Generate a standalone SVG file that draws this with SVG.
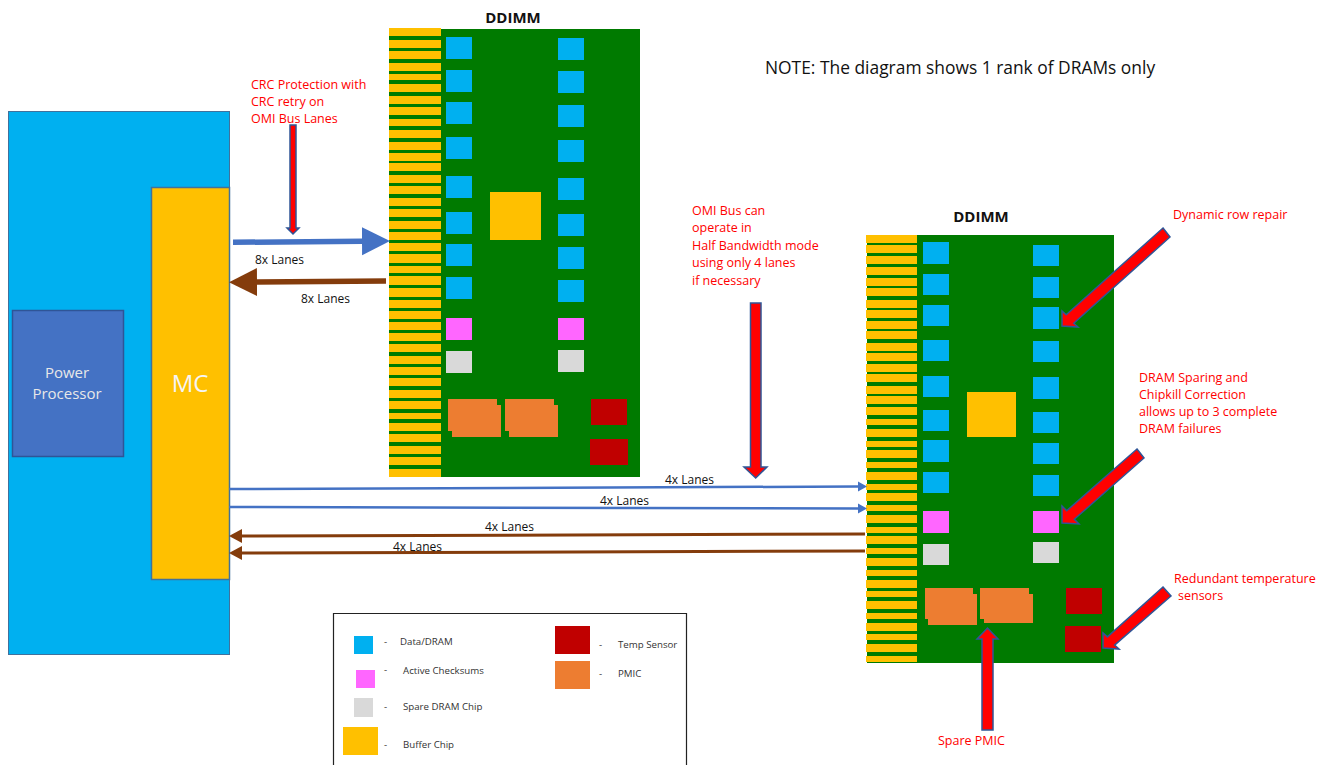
<svg xmlns="http://www.w3.org/2000/svg" width="1331" height="765" viewBox="0 0 1331 765">
<style>
text{font-family:"Open Sans","Noto Sans","Liberation Sans",sans-serif;font-size:12px;fill:#111}
.r{fill:#f00;font-size:12.5px}
.lg{font-size:9.7px;fill:#333}
.dd{font-size:15px;font-weight:700;text-anchor:middle;fill:#111}
.st rect{fill:#ffc000}
.pcb{fill:#007a00}
.dram{fill:#00b0f0}
.chk{fill:#ff66ff}
.spare{fill:#d9d9d9}
.buf{fill:#ffc000}
.tmp{fill:#c00000}
.pm{fill:#ed7d31}
.bl{stroke:#4472c4;fill:none}
.br{stroke:#843c0c;fill:none}
.ra{fill:#f00;stroke:#2f5597;stroke-width:1.5}
</style>
<defs>
<marker id="mBlueBig" markerUnits="userSpaceOnUse" markerWidth="28" markerHeight="30" refX="0" refY="15" orient="auto"><path d="M0 1L28 15L0 29Z" fill="#4472c4"/></marker>
<marker id="mBrownBig" markerUnits="userSpaceOnUse" markerWidth="28" markerHeight="30" refX="0" refY="15" orient="auto"><path d="M0 1L28 15L0 29Z" fill="#843c0c"/></marker>
<marker id="mBlue" markerUnits="userSpaceOnUse" markerWidth="10" markerHeight="14" refX="0" refY="7" orient="auto"><path d="M0 2L9 7L0 12Z" fill="#4472c4"/></marker>
<marker id="mBrown" markerUnits="userSpaceOnUse" markerWidth="14" markerHeight="16" refX="0" refY="8" orient="auto"><path d="M0 1L13 8L0 15Z" fill="#843c0c"/></marker>
</defs>
<rect width="1331" height="765" fill="#fff"/>

<g id="processor">
<rect x="8.5" y="111.5" width="221" height="543" fill="#00b0f0" stroke="#41719c"/>
</g>
<g id="power-processor">
<rect x="12.5" y="310.5" width="111" height="146" fill="#4472c4" stroke="#2f5597" stroke-width="1.5"/>
<text x="67" y="378" text-anchor="middle" style="font-size:15px;fill:#e8e8e8">Power</text>
<text x="67" y="399" text-anchor="middle" style="font-size:15px;fill:#e8e8e8">Processor</text>
</g>
<g id="mc">
<rect x="151.5" y="187.5" width="78" height="392" fill="#ffc000" stroke="#41719c" stroke-width="1.5"/>
<text x="190" y="392" text-anchor="middle" style="font-size:24px;fill:#f5f5f5">MC</text>
</g>

<g id="ddimm-1">
<text x="513" y="23" class="dd">DDIMM</text>
<rect class="pcb" x="389" y="29" width="251" height="448"/>
<g class="st">
<rect x="389" y="28" width="52" height="8"/><rect x="389" y="40" width="52" height="8"/><rect x="389" y="51" width="52" height="8"/><rect x="389" y="63" width="52" height="8"/><rect x="389" y="74" width="52" height="6"/><rect x="389" y="84" width="52" height="8"/><rect x="389" y="96" width="52" height="8"/><rect x="389" y="107" width="52" height="8"/><rect x="389" y="119" width="52" height="7"/><rect x="389" y="130" width="52" height="8"/><rect x="389" y="142" width="52" height="8"/><rect x="389" y="153" width="52" height="8"/><rect x="389" y="163" width="52" height="8"/><rect x="389" y="175" width="52" height="8"/><rect x="389" y="186" width="52" height="8"/><rect x="389" y="198" width="52" height="8"/><rect x="389" y="209" width="52" height="8"/><rect x="389" y="221" width="52" height="8"/><rect x="389" y="232" width="52" height="8"/><rect x="389" y="243" width="52" height="8"/><rect x="389" y="254" width="52" height="9"/><rect x="389" y="266" width="52" height="7"/><rect x="389" y="276" width="52" height="9"/><rect x="389" y="288" width="52" height="9"/><rect x="389" y="300" width="52" height="8"/><rect x="389" y="311" width="52" height="8"/><rect x="389" y="322" width="52" height="8"/><rect x="389" y="333" width="52" height="8"/><rect x="389" y="344" width="52" height="8"/><rect x="389" y="356" width="52" height="8"/><rect x="389" y="367" width="52" height="8"/><rect x="389" y="378" width="52" height="8"/><rect x="389" y="390" width="52" height="8"/><rect x="389" y="401" width="52" height="8"/><rect x="389" y="413" width="52" height="6"/><rect x="389" y="423" width="52" height="8"/><rect x="389" y="434" width="52" height="8"/><rect x="389" y="446" width="52" height="8"/><rect x="389" y="457" width="52" height="8"/><rect x="389" y="469" width="52" height="8"/>
</g>
<g class="dram">
<rect x="446" y="37" width="26" height="22"/><rect x="446" y="70" width="26" height="22"/><rect x="446" y="102" width="26" height="22"/><rect x="446" y="137" width="26" height="22"/><rect x="446" y="176" width="26" height="22"/><rect x="446" y="212" width="26" height="22"/><rect x="446" y="244" width="26" height="22"/><rect x="446" y="277" width="26" height="22"/>
<rect x="558" y="38" width="26" height="22"/><rect x="558" y="71" width="26" height="22"/><rect x="558" y="105" width="26" height="22"/><rect x="558" y="140" width="26" height="22"/><rect x="558" y="178" width="26" height="22"/><rect x="558" y="214" width="26" height="22"/><rect x="558" y="247" width="26" height="22"/><rect x="558" y="280" width="26" height="22"/>
</g>
<rect class="chk" x="446" y="318" width="26" height="22"/><rect class="chk" x="558" y="318" width="26" height="22"/>
<rect class="spare" x="446" y="351" width="26" height="22"/><rect class="spare" x="558" y="350" width="26" height="22"/>
<rect class="buf" x="490" y="192" width="51" height="48"/>
<g class="pm">
<rect x="448" y="399" width="49" height="32"/><rect x="452" y="405" width="49" height="32"/><rect x="505" y="399" width="49" height="32"/><rect x="509" y="405" width="49" height="32"/>
</g>
<rect class="tmp" x="591" y="399" width="36" height="26"/><rect class="tmp" x="590" y="439" width="38" height="26"/>
</g>

<g id="ddimm-2">
<text x="981" y="222" class="dd">DDIMM</text>
<rect class="pcb" x="867" y="235" width="247" height="428"/>
<g class="st">
<rect x="866" y="235" width="51" height="8"/><rect x="866" y="245" width="51" height="8"/><rect x="866" y="256" width="51" height="8"/><rect x="866" y="267" width="51" height="8"/><rect x="866" y="278" width="51" height="8"/><rect x="866" y="288" width="51" height="8"/><rect x="866" y="300" width="51" height="8"/><rect x="866" y="310" width="51" height="8"/><rect x="866" y="321" width="51" height="8"/><rect x="866" y="331" width="51" height="8"/><rect x="866" y="343" width="51" height="8"/><rect x="866" y="353" width="51" height="8"/><rect x="866" y="364" width="51" height="8"/><rect x="866" y="374" width="51" height="8"/><rect x="866" y="386" width="51" height="8"/><rect x="866" y="396" width="51" height="8"/><rect x="866" y="407" width="51" height="8"/><rect x="866" y="419" width="51" height="6"/><rect x="866" y="429" width="51" height="8"/><rect x="866" y="441" width="51" height="6"/><rect x="866" y="450" width="51" height="8"/><rect x="866" y="462" width="51" height="6"/><rect x="866" y="472" width="51" height="8"/><rect x="866" y="484" width="51" height="6"/><rect x="866" y="493" width="51" height="8"/><rect x="866" y="505" width="51" height="6"/><rect x="866" y="515" width="51" height="8"/><rect x="866" y="527" width="51" height="6"/><rect x="866" y="536" width="51" height="8"/><rect x="866" y="548" width="51" height="6"/><rect x="866" y="558" width="51" height="8"/><rect x="866" y="570" width="51" height="6"/><rect x="866" y="580" width="51" height="8"/><rect x="866" y="591" width="51" height="6"/><rect x="866" y="601" width="51" height="8"/><rect x="866" y="613" width="51" height="6"/><rect x="866" y="623" width="51" height="8"/><rect x="866" y="634" width="51" height="6"/><rect x="866" y="644" width="51" height="8"/><rect x="866" y="656" width="51" height="6"/>
</g>
<g class="dram">
<rect x="923" y="242" width="26" height="22"/><rect x="923" y="274" width="26" height="21"/><rect x="923" y="305" width="26" height="21"/><rect x="923" y="340" width="26" height="21"/><rect x="923" y="376" width="26" height="21"/><rect x="923" y="410" width="26" height="21"/><rect x="923" y="440" width="26" height="22"/><rect x="923" y="472" width="26" height="21"/>
<rect x="1033" y="245" width="26" height="21"/><rect x="1033" y="277" width="26" height="21"/><rect x="1033" y="307" width="26" height="22"/><rect x="1033" y="341" width="26" height="21"/><rect x="1033" y="377" width="26" height="22"/><rect x="1033" y="412" width="26" height="21"/><rect x="1033" y="443" width="26" height="21"/><rect x="1033" y="475" width="26" height="21"/>
</g>
<rect class="chk" x="923" y="511" width="26" height="22"/><rect class="chk" x="1033" y="511" width="26" height="22"/>
<rect class="spare" x="923" y="544" width="26" height="21"/><rect class="spare" x="1033" y="542" width="26" height="21"/>
<rect class="buf" x="967" y="392" width="49" height="45"/>
<g class="pm">
<rect x="925" y="588" width="48" height="31"/><rect x="928" y="594" width="49" height="31"/><rect x="980" y="588" width="49" height="31"/><rect x="984" y="594" width="49" height="29"/>
</g>
<rect class="tmp" x="1066" y="588" width="36" height="26"/><rect class="tmp" x="1065" y="626" width="36" height="26"/>
</g>

<g id="connectors">
<line class="bl" x1="233" y1="242.3" x2="362" y2="241.3" stroke-width="5.5" marker-end="url(#mBlueBig)"/>
<line class="br" x1="386" y1="281" x2="257" y2="282" stroke-width="5.5" marker-end="url(#mBrownBig)"/>
<line class="bl" x1="229" y1="489" x2="858" y2="486.5" stroke-width="2.5" marker-end="url(#mBlue)"/>
<line class="bl" x1="229" y1="507" x2="858" y2="508.5" stroke-width="2.5" marker-end="url(#mBlue)"/>
<line class="br" x1="865" y1="534" x2="242" y2="536" stroke-width="3" marker-end="url(#mBrown)"/>
<line class="br" x1="865" y1="551" x2="242" y2="553" stroke-width="3" marker-end="url(#mBrown)"/>
<polygon class="ra" points="290,125 296,125 296,228 299,228 293,234 287,228 290,228"/>
<polygon class="ra" points="750.5,303 761,303 761,467 767,467 755.7,478 744,467 750.5,467"/>
<polygon class="ra" points="1163,228 1170,237 1073.8,323.2 1078,327 1062,326 1062,311 1066.2,314.8"/>
<polygon class="ra" points="1137,449 1144,458 1074.3,519.3 1079,524 1062,523 1062,506 1066.7,510.7"/>
<polygon class="ra" points="1163,587 1171,596 1114.6,645.1 1119,649 1103,648 1103,633 1107.4,636.9"/>
<polygon class="ra" points="982,730 993,730 993,639 998,639 987.5,628 977,639 982,639"/>
</g>

<g id="labels">
<text x="255" y="264">8x Lanes</text>
<text x="301" y="303">8x Lanes</text>
<text x="665" y="484">4x Lanes</text>
<text x="600" y="505">4x Lanes</text>
<text x="485" y="531">4x Lanes</text>
<text x="393" y="551">4x Lanes</text>
<text x="765" y="74" style="font-size:17.4px">NOTE: The diagram shows 1 rank of DRAMs only</text>
<text class="r" x="251" y="89">CRC Protection with</text>
<text class="r" x="251" y="106">CRC retry on</text>
<text class="r" x="251" y="123">OMI Bus Lanes</text>
<text class="r" x="692" y="215">OMI Bus can</text>
<text class="r" x="692" y="232">operate in</text>
<text class="r" x="692" y="250">Half Bandwidth mode</text>
<text class="r" x="692" y="267">using only 4 lanes</text>
<text class="r" x="692" y="285">if necessary</text>
<text class="r" x="1173" y="219">Dynamic row repair</text>
<text class="r" x="1139" y="382">DRAM Sparing and</text>
<text class="r" x="1139" y="399">Chipkill Correction</text>
<text class="r" x="1139" y="416">allows up to 3 complete</text>
<text class="r" x="1139" y="433">DRAM failures</text>
<text class="r" x="1174" y="583">Redundant temperature</text>
<text class="r" x="1178" y="600">sensors</text>
<text class="r" x="938" y="745">Spare PMIC</text>
</g>

<g id="legend">
<path d="M333.5 765V613.5H686.5V765" fill="#fff" stroke="#222" stroke-width="1.2"/>
<rect class="dram" x="354" y="636" width="19" height="18"/>
<rect class="chk" x="356" y="670" width="19" height="18"/>
<rect class="spare" x="354" y="698" width="19" height="19"/>
<rect class="buf" x="343" y="727" width="35" height="28"/>
<rect class="tmp" x="555" y="626" width="35" height="28"/>
<rect class="pm" x="555" y="661" width="35" height="28"/>
<text class="lg" x="384" y="645">-</text>
<text class="lg" x="384" y="673">-</text>
<text class="lg" x="384" y="710">-</text>
<text class="lg" x="384" y="748">-</text>
<text class="lg" x="599" y="648">-</text>
<text class="lg" x="599" y="677">-</text>
<text class="lg" x="400" y="645">Data/DRAM</text>
<text class="lg" x="403" y="674">Active Checksums</text>
<text class="lg" x="403" y="710">Spare DRAM Chip</text>
<text class="lg" x="403" y="748">Buffer Chip</text>
<text class="lg" x="618" y="648">Temp Sensor</text>
<text class="lg" x="618" y="677">PMIC</text>
</g>
</svg>
